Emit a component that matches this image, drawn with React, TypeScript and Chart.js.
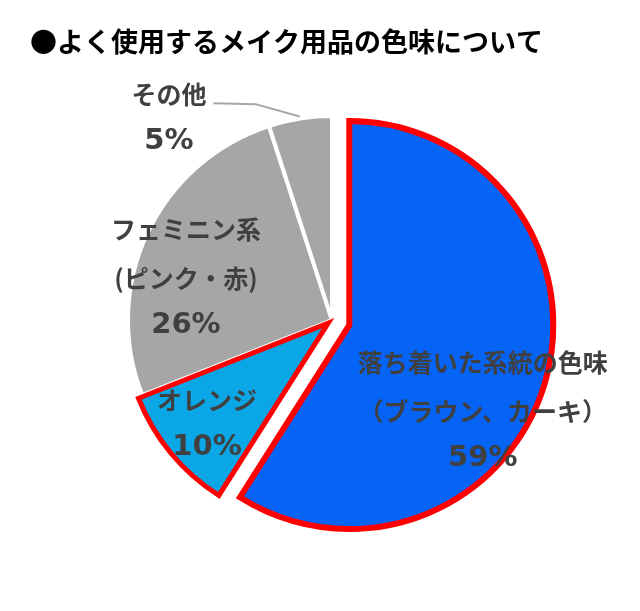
import React, { useEffect, useRef } from "react";
import { Chart, registerables } from "chart.js";

Chart.register(...registerables);

const TITLE = "●よく使用するメイク用品の色味について";
const CATEGORIES = [
  "落ち着いた系統の色味（ブラウン、カーキ）",
  "オレンジ",
  "フェミニン系(ピンク・赤)",
  "その他",
];
const LABEL_LINES = [
  ["落ち着いた系統の色味", "（ブラウン、カーキ）"],
  ["オレンジ"],
  ["フェミニン系", "(ピンク・赤)"],
  ["その他"],
];
const VALUES = [59, 10, 26, 5];

const COLORS = ["#0563F5", "#0AA6E6", "#A6A6A6", "#A6A6A6"];
const BORDER_COLORS = ["#FF0000", "#FF0000", "#FFFFFF", "#FFFFFF"];
const BORDER_WIDTHS = [6, 5, 4, 4];
const EXPLODE = [18, 5, 0, 0];
// label block placement: angle (deg, 0 = right, clockwise) and fraction of radius
const LABEL_ANGLE = [33, 140, 196, 231];
const LABEL_RADIUS = [0.78, 0.775, 0.745, 1.27];
const DRAW_ORDER = [2, 3, 1, 0];

const LABEL_FONT = 'bold 25px "Noto Sans CJK JP", "Noto Sans", sans-serif';
const PCT_FONT = 'bold 29px "DejaVu Sans", sans-serif';
const LINE_HEIGHT = 49;

const explodePlugin = {
  id: "explodeDraw",
  beforeDatasetDraw(chart: any, args: any) {
    const ctx = chart.ctx;
    const meta = args.meta;
    DRAW_ORDER.forEach((i) => {
      const arc = meta.data[i];
      if (!arc) return;
      const mid = (arc.startAngle + arc.endAngle) / 2;
      const d = EXPLODE[i];
      ctx.save();
      ctx.translate(Math.cos(mid) * d, Math.sin(mid) * d);
      arc.draw(ctx);
      ctx.restore();
    });
    return false;
  },
  afterDraw(chart: any) {
    const ctx = chart.ctx;
    const meta = chart.getDatasetMeta(0);
    ctx.save();
    // title
    ctx.fillStyle = "#000000";
    ctx.font = 'bold 27px "Noto Sans CJK JP", "Noto Sans", sans-serif';
    ctx.textAlign = "left";
    ctx.textBaseline = "middle";
    ctx.fillText(TITLE, 30, 42);

    ctx.fillStyle = "#404040";
    ctx.textAlign = "center";
    meta.data.forEach((arc: any, i: number) => {
      const mid = (arc.startAngle + arc.endAngle) / 2;
      const cx = arc.x + Math.cos(mid) * EXPLODE[i];
      const cy = arc.y + Math.sin(mid) * EXPLODE[i];
      const a = (LABEL_ANGLE[i] * Math.PI) / 180;
      const r = arc.outerRadius * LABEL_RADIUS[i];
      const bx = cx + Math.cos(a) * r;
      const by = cy + Math.sin(a) * r;
      const lines = [...LABEL_LINES[i], `${VALUES[i]}%`];
      const y0 = by - ((lines.length - 1) * LINE_HEIGHT) / 2;
      lines.forEach((t, k) => {
        const isPct = k === lines.length - 1;
        ctx.font = isPct ? PCT_FONT : LABEL_FONT;
        ctx.fillText(t, bx, y0 + k * LINE_HEIGHT - (isPct ? 2 : 0));
      });
      if (LABEL_RADIUS[i] > 1) {
        // leader line from the first text line to the slice edge
        ctx.font = LABEL_FONT;
        const w = ctx.measureText(lines[0]).width;
        const sx = bx + w / 2 + 7;
        const sy = y0 + 9;
        const ex = cx + Math.cos(mid) * (arc.outerRadius + 2);
        const ey = cy + Math.sin(mid) * (arc.outerRadius + 2);
        ctx.strokeStyle = "#A6A6A6";
        ctx.lineWidth = 2;
        ctx.beginPath();
        ctx.moveTo(sx, sy);
        ctx.lineTo(sx + 42, sy + 1);
        ctx.lineTo(ex, ey);
        ctx.stroke();
      }
    });
    ctx.restore();
  },
};

export default function App() {
  const ref = useRef<HTMLCanvasElement | null>(null);
  useEffect(() => {
    if (!ref.current) return;
    const chart = new Chart(ref.current, {
      type: "pie",
      data: {
        labels: CATEGORIES,
        datasets: [
          {
            data: VALUES,
            backgroundColor: COLORS,
            borderColor: BORDER_COLORS,
            borderWidth: BORDER_WIDTHS,
            borderJoinStyle: "miter",
          } as any,
        ],
      },
      options: {
        responsive: false,
        animation: false,
        radius: 204,
        layout: { padding: { left: 24, top: 29, right: 0, bottom: 0 } },
        plugins: {
          legend: { display: false },
          tooltip: { enabled: false },
          title: { display: false },
        },
      } as any,
      plugins: [explodePlugin],
    });
    return () => chart.destroy();
  }, []);
  return (
    <div
      style={{
        position: "fixed",
        left: 0,
        top: 0,
        width: 640,
        height: 611,
        background: "#ffffff",
      }}
    >
      <canvas ref={ref} width={640} height={611} />
    </div>
  );
}
